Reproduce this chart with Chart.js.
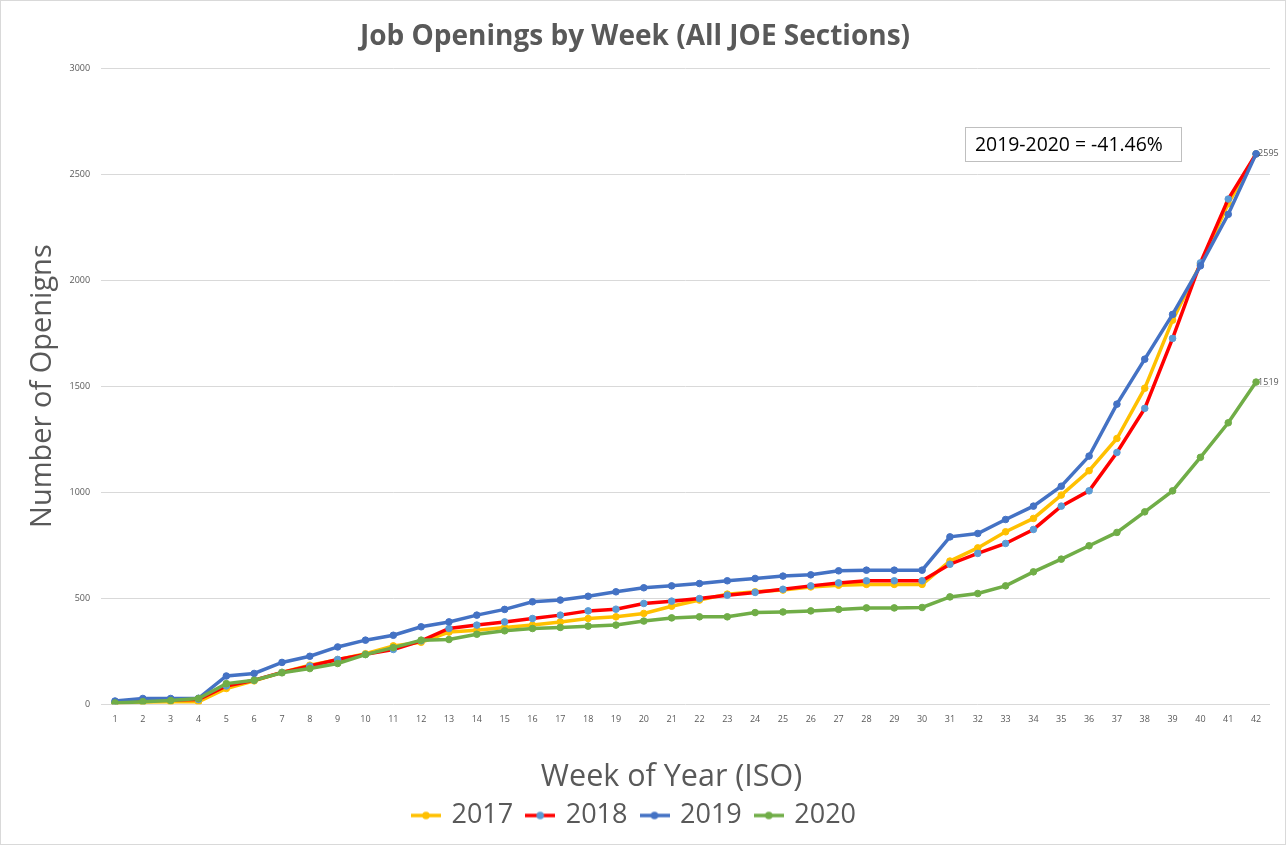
<!DOCTYPE html>
<html>
<head>
<meta charset="utf-8">
<script src="https://cdn.jsdelivr.net/npm/chart.js@4.4.1/dist/chart.umd.min.js"></script>
<style>
html,body{margin:0;padding:0;background:#fff;}
#wrap{width:1286px;height:845px;position:relative;}
canvas{display:block;}
</style>
</head>
<body>
<div id="wrap"><canvas id="c" width="1286" height="845"></canvas></div>
<script>
// ---- data ----
const weeks = ['1','2','3','4','5','6','7','8','9','10','11','12','13','14','15','16','17','18','19','20','21','22','23','24','25','26','27','28','29','30','31','32','33','34','35','36','37','38','39','40','41','42'];
const seriesNames = ['2017','2018','2019','2020'];
const y2017 = [5,10,12,12,74,110,150,184,210,238,275,292,340,349,362,373,388,404,412,428,462,491,519,530,538,553,561,565,565,565,675,737,813,876,986,1101,1253,1490,1811,2075,2360,2595];
const y2018 = [10,16,20,22,86,113,150,180,211,235,258,299,357,373,388,404,420,440,448,475,486,498,514,527,542,558,572,582,582,582,660,711,758,824,934,1006,1187,1395,1725,2081,2382,2595];
const y2019 = [15,27,27,28,133,145,197,226,270,302,325,365,388,420,447,483,491,509,530,549,558,569,582,593,604,610,629,632,632,632,789,805,871,934,1028,1170,1415,1627,1838,2067,2310,2595];
const y2020 = [6,12,17,27,97,113,148,168,192,234,267,302,305,330,346,357,362,368,373,392,407,412,412,432,435,440,447,454,454,456,506,522,558,624,684,747,810,907,1006,1164,1327,1519];
const yTicks = [0,500,1000,1500,2000,2500,3000];
const chartTitle = 'Job Openings by Week (All JOE Sections)';
const xTitle = 'Week of Year (ISO)';
const yTitle = 'Number of Openigns';
const noteText = '2019-2020 = -41.46%';
const endLabelSeries = ['2019','2020'];

// ---- styles ----
const lineColors = ['#FFC000','#FF0000','#4472C4','#70AD47'];
const pointColors = ['#FFC000','#5B9BD5','#4472C4','#70AD47'];
const seriesValues = [y2017,y2018,y2019,y2020];
const FONT = "'Open Sans', 'DejaVu Sans', sans-serif";
const GREY = '#595959';
const X_TITLE_FONT = 30.5;

function legendIcon(lc, pc){
  const cv = document.createElement('canvas');
  cv.width = 30; cv.height = 10;
  const g = cv.getContext('2d');
  g.strokeStyle = lc; g.lineWidth = 3.5;
  g.beginPath(); g.moveTo(0,5); g.lineTo(30,5); g.stroke();
  g.fillStyle = pc;
  g.beginPath(); g.arc(15,5,3.8,0,Math.PI*2); g.fill();
  return cv;
}
const icons = seriesNames.map((n,i)=>legendIcon(lineColors[i], pointColors[i]));

const datasets = seriesNames.map((n,i)=>({
  label: n,
  data: seriesValues[i],
  borderColor: lineColors[i],
  backgroundColor: pointColors[i],
  pointBackgroundColor: pointColors[i],
  pointBorderColor: pointColors[i],
  pointRadius: 3.3,
  pointHoverRadius: 3.3,
  pointBorderWidth: 1,
  borderWidth: 3.5,
  tension: 0,
  fill: false,
  order: seriesNames.length - i
}));

const framePlugin = {
  id: 'frame',
  afterDraw(chart){
    const c = chart.ctx;
    c.save();
    c.strokeStyle = '#d9d9d9'; c.lineWidth = 1;
    c.strokeRect(0.5,0.5,chart.width-1,chart.height-1);
    c.restore();
  }
};

// x-axis title drawn slightly left of the plot centre, as in the reference
const xTitlePlugin = {
  id: 'xTitleText',
  afterDraw(chart){
    const s = chart.scales.x;
    const opts = s.options.title;
    const c = chart.ctx;
    c.save();
    c.font = `${X_TITLE_FONT}px ${FONT}`;
    c.fillStyle = GREY;
    c.textAlign = 'center'; c.textBaseline = 'middle';
    const y = s.bottom - opts.padding.bottom - X_TITLE_FONT/2;
    c.fillText(xTitle, (chart.chartArea.left + chart.chartArea.right)/2 - 14, y);
    c.restore();
  }
};

const notePlugin = {
  id: 'note',
  afterDraw(chart){
    const c = chart.ctx;
    c.save();
    c.font = `19.4px ${FONT}`;
    const bx = 965, by = 127, bw = 216, bh = 34;
    c.fillStyle = '#fff';
    c.fillRect(bx,by,bw,bh);
    c.strokeStyle = '#bfbfbf'; c.lineWidth = 1;
    c.strokeRect(bx+0.5,by+0.5,bw,bh);
    c.fillStyle = '#000';
    c.textAlign = 'left'; c.textBaseline = 'middle';
    c.fillText(noteText, bx + 10, by + bh/2 + 1);
    c.restore();
  }
};

const endLabelPlugin = {
  id: 'endLabels',
  afterDatasetsDraw(chart){
    const c = chart.ctx;
    c.save();
    c.font = `9px ${FONT}`;
    c.fillStyle = GREY;
    c.textAlign = 'left'; c.textBaseline = 'middle';
    chart.data.datasets.forEach((ds,i)=>{
      if (!endLabelSeries.includes(ds.label)) return;
      const meta = chart.getDatasetMeta(i);
      const pt = meta.data[meta.data.length-1];
      const v = ds.data[ds.data.length-1];
      c.fillText(String(v), pt.x + 2, pt.y);
    });
    c.restore();
  }
};

new Chart(document.getElementById('c'), {
  type: 'line',
  data: { labels: weeks, datasets },
  options: {
    responsive: false,
    animation: false,
    events: [],
    layout: { padding: { left: 0, right: 16, top: 8, bottom: 6 } },
    plugins: {
      title: {
        display: true,
        text: chartTitle,
        color: GREY,
        font: { family: FONT, size: 28, weight: 'bold' },
        padding: { top: 12, bottom: 14.4 }
      },
      legend: {
        display: true,
        position: 'bottom',
        labels: {
          usePointStyle: true,
          pointStyleWidth: 24,
          color: GREY,
          padding: 15,
          font: { family: FONT, size: 27 },
          sort: (a,b) => a.datasetIndex - b.datasetIndex,
          generateLabels(chart){
            const items = Chart.defaults.plugins.legend.labels.generateLabels(chart);
            items.forEach((it)=>{ it.pointStyle = icons[it.datasetIndex]; });
            return items;
          }
        }
      },
      tooltip: { enabled: false }
    },
    scales: {
      x: {
        type: 'category',
        offset: true,
        grid: { display: false, drawTicks: false },
        border: { display: false },
        ticks: { color: GREY, font: { family: FONT, size: 9 }, padding: 10, autoSkip: false, maxRotation: 0 },
        title: {
          display: true, text: xTitle, color: 'rgba(0,0,0,0)',
          font: { family: FONT, size: X_TITLE_FONT, lineHeight: 1 },
          padding: { top: 27, bottom: -5.5 }
        }
      },
      y: {
        min: 0, max: 3000,
        afterBuildTicks(scale){ scale.ticks = yTicks.map(v=>({value:v})); },
        grid: { color: '#d9d9d9', lineWidth: 1, drawTicks: false },
        border: { display: false },
        ticks: { color: GREY, font: { family: FONT, size: 9 }, padding: 11, callback: (v) => String(v) },
        title: {
          display: true, text: yTitle, color: GREY,
          font: { family: FONT, size: 29, lineHeight: 1 },
          padding: { top: 28, bottom: 1.5 }
        }
      }
    }
  },
  plugins: [framePlugin, notePlugin, endLabelPlugin, xTitlePlugin]
});
</script>
</body>
</html>
